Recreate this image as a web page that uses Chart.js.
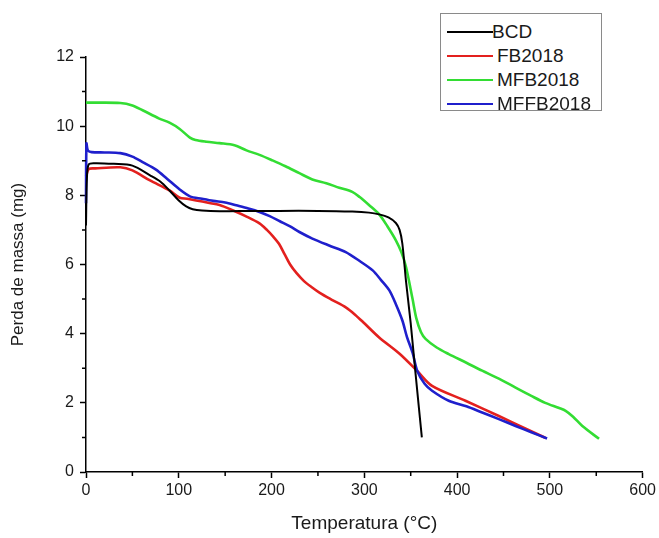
<!DOCTYPE html>
<html>
<head>
<meta charset="utf-8">
<script src="https://cdn.jsdelivr.net/npm/chart.js@4/dist/chart.umd.min.js"></script>
<style>
  html, body { margin: 0; padding: 0; background: #fff; }
  #wrap { position: relative; width: 659px; height: 538px; }
  #legend {
    position: absolute; left: 440px; top: 13px; width: 162px; height: 98px;
    border: 1px solid #8a8a8a; background: #fff;
    font-family: "Liberation Sans", Arial, sans-serif; font-size: 19px; color: #1a1a1a;
    box-sizing: border-box;
  }
  .row { position: absolute; left: 0; height: 22px; width: 100%; }
  .sw { position: absolute; left: 6px; width: 46px; height: 2px; top: 10px; }
  .lb { position: absolute; top: 0; line-height: 22px; white-space: nowrap; }
</style>
</head>
<body>
<div id="wrap">
  <canvas id="c" width="659" height="538"></canvas>
  <div id="legend"></div>
</div>
<script>
// ---- data ----
const seriesNames = ["BCD", "FB2018", "MFB2018", "MFFB2018"];
const seriesColors = ["#000000", "#e3201e", "#33dd33", "#1f1fcc"];

const BCD_T = [0, 1, 3, 10, 30, 50, 69, 80, 90, 100, 108, 115, 125, 144, 180, 208, 250, 287, 305, 316, 326, 334, 338, 341, 345, 350, 355, 362];
const BCD_M = [7.13, 8.5, 8.9, 8.93, 8.91, 8.86, 8.58, 8.4, 8.14, 7.85, 7.68, 7.6, 7.56, 7.54, 7.55, 7.55, 7.55, 7.53, 7.5, 7.45, 7.36, 7.2, 7.0, 6.6, 5.5, 4.3, 2.9, 1.0];

const FB_T = [0, 3, 10, 37, 50, 69, 90, 101, 109, 133, 144, 158, 172, 187, 195, 202, 208, 214, 220, 227, 235, 243, 252, 265, 280, 290, 300, 316, 338, 357, 373, 409, 445, 474, 495];
const FB_M = [8.55, 8.76, 8.78, 8.81, 8.72, 8.43, 8.14, 7.93, 7.9, 7.78, 7.72, 7.57, 7.4, 7.19, 7.0, 6.8, 6.6, 6.3, 6.0, 5.75, 5.52, 5.35, 5.18, 4.98, 4.76, 4.55, 4.3, 3.89, 3.42, 2.92, 2.49, 2.06, 1.62, 1.25, 0.99];

const MFB_T = [0, 10, 37, 50, 61, 79, 90, 101, 112, 118, 130, 144, 160, 173, 187, 201, 215, 230, 244, 259, 273, 287, 295, 305, 316, 325, 334, 340, 345, 352, 356, 361, 366, 378, 391, 410, 427, 445, 463, 480, 495, 510, 517, 525, 535, 553];
const MFB_M = [10.68, 10.68, 10.67, 10.6, 10.46, 10.22, 10.1, 9.92, 9.67, 9.6, 9.55, 9.51, 9.45, 9.3, 9.17, 9.01, 8.84, 8.64, 8.46, 8.35, 8.22, 8.1, 7.95, 7.72, 7.45, 7.1, 6.7, 6.35, 5.92, 5.0, 4.45, 4.05, 3.85, 3.6, 3.41, 3.16, 2.93, 2.7, 2.44, 2.2, 2.0, 1.85, 1.77, 1.6, 1.33, 0.96];

const MFFB_T = [0, 0.5, 2, 6, 20, 37, 50, 61, 75, 87, 101, 112, 125, 137, 150, 162, 175, 187, 198, 209, 220, 230, 244, 262, 280, 295, 309, 318, 327, 334, 341, 346, 352, 357, 365, 373, 391, 410, 427, 445, 463, 480, 497];
const MFFB_M = [7.77, 9.5, 9.3, 9.25, 9.24, 9.22, 9.12, 8.96, 8.75, 8.49, 8.17, 7.97, 7.9, 7.84, 7.79, 7.71, 7.62, 7.52, 7.4, 7.25, 7.1, 6.94, 6.75, 6.55, 6.36, 6.1, 5.83, 5.55, 5.25, 4.85, 4.38, 3.9, 3.45, 2.93, 2.55, 2.35, 2.06, 1.9, 1.72, 1.53, 1.33, 1.15, 0.97];

const xMajorTicks = [0, 100, 200, 300, 400, 500, 600];
const xMinorTicks = [50, 150, 250, 350, 450, 550];
const yMajorTicks = [0, 2, 4, 6, 8, 10, 12];
const yMinorTicks = [1, 3, 5, 7, 9, 11];

const xTitle = "Temperatura (\u00B0C)";
const yTitle = "Perda de massa (mg)";

// ---- build ----
function pts(T, M) { return T.map((t, i) => ({ x: t, y: M[i] })); }
const allT = [BCD_T, FB_T, MFB_T, MFFB_T];
const allM = [BCD_M, FB_M, MFB_M, MFFB_M];
const widths = [2.0, 2.6, 2.6, 2.6];

const datasets = seriesNames.map((n, i) => ({
  label: n,
  data: pts(allT[i], allM[i]),
  borderColor: seriesColors[i],
  backgroundColor: seriesColors[i],
  borderWidth: widths[i],
  pointRadius: 0,
  tension: 0.3,
  fill: false,
  clip: 6
}));
datasets[0].order = 0; datasets[1].order = 2; datasets[2].order = 3; datasets[3].order = 1;

const FONT = "'Liberation Sans', Arial, sans-serif";

const minorTicks = {
  id: 'minorTicks',
  afterDraw(chart) {
    const ctx = chart.ctx, xs = chart.scales.x, ys = chart.scales.y;
    ctx.save();
    ctx.strokeStyle = '#000';
    ctx.lineWidth = 1.5;
    ctx.beginPath();
    xMinorTicks.forEach(v => {
      const px = xs.getPixelForValue(v);
      ctx.moveTo(px, ys.bottom); ctx.lineTo(px, ys.bottom + 4);
    });
    yMinorTicks.forEach(v => {
      const py = ys.getPixelForValue(v);
      ctx.moveTo(xs.left, py); ctx.lineTo(xs.left - 4, py);
    });
    ctx.stroke();
    ctx.restore();
  }
};

new Chart(document.getElementById('c'), {
  type: 'line',
  data: { datasets },
  plugins: [minorTicks],
  options: {
    responsive: false,
    animation: false,
    layout: { padding: { top: 57, right: 13, left: 0, bottom: 0 } },
    plugins: { legend: { display: false }, tooltip: { enabled: false } },
    scales: {
      x: {
        type: 'linear', min: 0, max: 600,
        afterBuildTicks(s) { s.ticks = xMajorTicks.map(v => ({ value: v })); },
        afterFit(s) { s.height = 66; },
        ticks: { font: { family: FONT, size: 16 }, color: '#1a1a1a', padding: 3 },
        grid: { drawOnChartArea: false, drawTicks: true, tickLength: 6, tickColor: '#000', tickWidth: 1.5 },
        border: { display: true, color: '#000', width: 1.5 },
        title: { display: true, text: xTitle, font: { family: FONT, size: 19 }, color: '#1a1a1a', padding: { top: 0, bottom: 3 } }
      },
      y: {
        type: 'linear', min: 0, max: 12,
        afterBuildTicks(s) { s.ticks = yMajorTicks.map(v => ({ value: v })); },
        afterFit(s) { s.width = 86; },
        ticks: { font: { family: FONT, size: 16 }, color: '#1a1a1a', padding: 6 },
        grid: { drawOnChartArea: false, drawTicks: true, tickLength: 6, tickColor: '#000', tickWidth: 1.5 },
        border: { display: true, color: '#000', width: 1.5 },
        title: { display: true, text: yTitle, font: { family: FONT, size: 17 }, color: '#1a1a1a', padding: { top: 8, bottom: 0 } }
      }
    }
  }
});

// HTML legend built from the series arrays
const lg = document.getElementById('legend');
const rowTops = [7, 31, 55, 79];
seriesNames.forEach((n, i) => {
  const r = document.createElement('div');
  r.className = 'row'; r.style.top = rowTops[i] + 'px';
  const sw = document.createElement('div');
  sw.className = 'sw'; sw.style.background = seriesColors[i];
  const lb = document.createElement('div');
  lb.className = 'lb'; lb.textContent = n;
  lb.style.left = (i === 0 ? 51 : 56) + 'px';
  r.appendChild(sw); r.appendChild(lb); lg.appendChild(r);
});
</script>
</body>
</html>
